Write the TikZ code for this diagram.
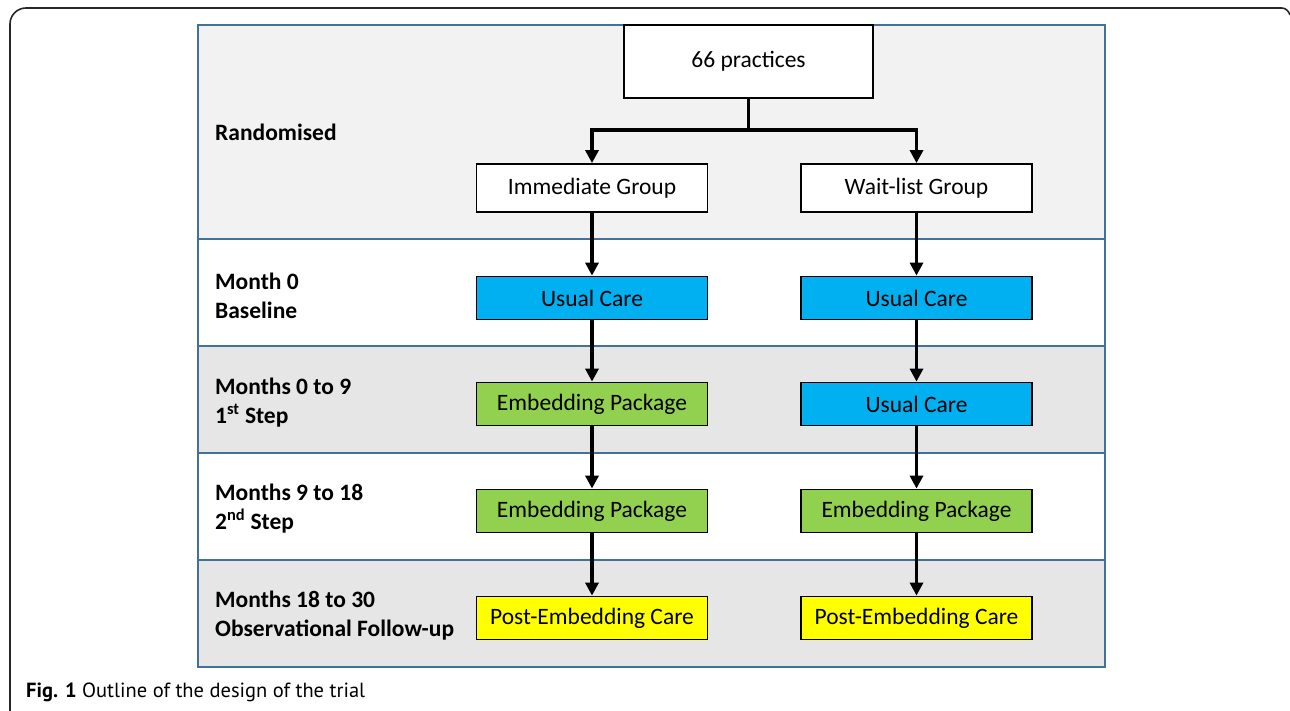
\documentclass[tikz,border=0pt]{standalone}
\usepackage{fontspec}
\setmainfont{Carlito}
\newfontfamily\capfont{PT Sans}
\usetikzlibrary{arrows.meta}
\definecolor{panelblue}{HTML}{41719C}
\definecolor{rowlight}{HTML}{F2F2F2}
\definecolor{rowgrey}{HTML}{E6E6E6}
\definecolor{careblue}{HTML}{00B0F0}
\definecolor{embgreen}{HTML}{92D050}
\definecolor{postyellow}{HTML}{FFFF00}
\tikzset{
  box/.style={draw=black, line width=1.8pt, minimum width=231pt, minimum height=43pt, inner sep=0pt,
    font=\fontsize{23.5}{28}\selectfont},
  grp/.style={box, fill=white, minimum height=48pt},
  usual/.style={box, fill=careblue},
  emb/.style={box, fill=embgreen},
  post/.style={box, fill=postyellow},
  lab/.style={anchor=west, align=left, inner sep=0pt, font=\fontsize{23.5}{29}\selectfont\bfseries},
  flow/.style={line width=3.2pt, -{Triangle[width=13pt,length=13pt]}},
  row/.style={draw=panelblue, line width=1.3pt},
}
\begin{document}
\begin{tikzpicture}[x=1pt,y=-1pt]
\useasboundingbox (0,0) rectangle (1290,711);
% outer frame
\draw[line width=1.6pt, black!85, rounded corners=16pt] (10,711) -- (10,8) -- (1282,8);
\draw[line width=1.6pt, black!85] (1281.5,8) to[out=0,in=110] (1290,15);
% panel rows
\path[fill=rowlight] (198,25) rectangle (1105,239);
\path[fill=white] (198,239) rectangle (1105,346);
\path[fill=rowgrey] (198,346) rectangle (1105,453);
\path[fill=white] (198,453) rectangle (1105,560);
\path[fill=rowgrey] (198,560) rectangle (1105,667);
\draw[row] (198,239) -- (1105,239);
\draw[row] (198,346) -- (1105,346);
\draw[row] (198,453) -- (1105,453);
\draw[row] (198,560) -- (1105,560);
\draw[row] (198,25) rectangle (1105,667);
% labels
\node[lab] (l1) at (215,132) {Randomised};
\node[lab] (l2) at (215,295.5) {Month 0\\Baseline};
\node[lab] (l3) at (215,403) {Months 0 to 9\\1\textsuperscript{st} Step};
\node[lab] (l4) at (215,509) {Months 9 to 18\\2\textsuperscript{nd} Step};
\node[lab] (l5) at (215,616) {Months 18 to 30\\Observational Follow-up};
% boxes
\node[box, fill=white, minimum width=249pt, minimum height=73pt] (p) at (748.5,61.5) {66 practices};
\node[grp] (ig) at (592,188) {Immediate Group};
\node[grp] (wg) at (916.5,188) {Wait-list Group};
\node[usual] (a1) at (592,298) {Usual Care};
\node[usual] (b1) at (916.5,298) {Usual Care};
\node[emb] (a2) at (592,404) {Embedding Package};
\node[usual] (b2) at (916.5,404) {Usual Care};
\node[emb] (a3) at (592,511) {Embedding Package};
\node[emb] (b3) at (916.5,511) {Embedding Package};
\node[post] (a4) at (592,618) {Post-Embedding Care};
\node[post] (b4) at (916.5,618) {Post-Embedding Care};
% connectors
\coordinate (j) at (748.5,130);
\draw[line width=3.2pt] (p.south) -- (j);
\draw[flow] (j) -| (ig.north);
\draw[flow] (j) -| (wg.north);
\draw[flow] (ig) -- (a1);
\draw[flow] (a1) -- (a2);
\draw[flow] (a2) -- (a3);
\draw[flow] (a3) -- (a4);
\draw[flow] (wg) -- (b1);
\draw[flow] (b1) -- (b2);
\draw[flow] (b2) -- (b3);
\draw[flow] (b3) -- (b4);
% caption
\node[anchor=base west, inner sep=0pt, font=\capfont\fontsize{20.5}{24}\selectfont] (cap) at (26,697) {\textbf{Fig. 1} Outline of the design of the trial};
\end{tikzpicture}
\end{document}
